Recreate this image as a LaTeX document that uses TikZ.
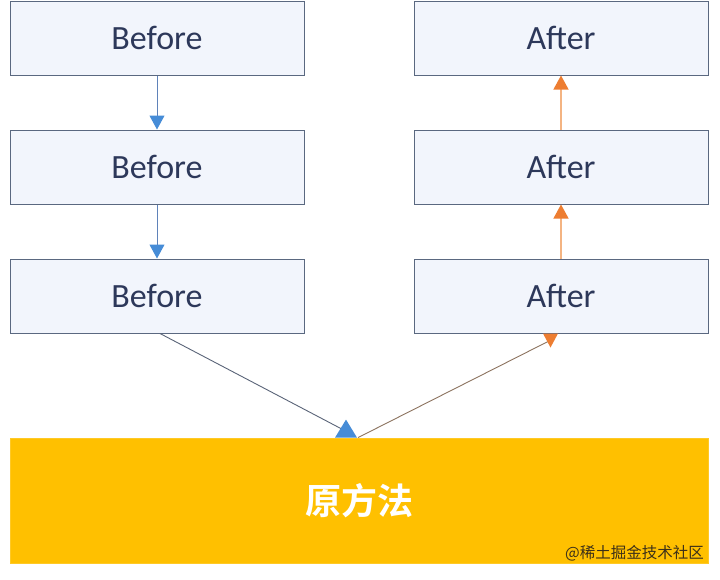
\documentclass[tikz,border=0pt]{standalone}
\usepackage{fontspec}
\setmainfont{Carlito}
\newfontfamily\cjk{Noto Sans CJK SC}
\newfontfamily\cjkbold{Noto Sans CJK SC Bold}
\usetikzlibrary{arrows.meta}
\definecolor{boxfill}{RGB}{242,245,252}
\definecolor{boxline}{RGB}{90,104,128}
\definecolor{txt}{RGB}{45,56,90}
\definecolor{bluetip}{RGB}{70,140,215}
\definecolor{bluelin}{RGB}{95,130,185}
\definecolor{orangetip}{RGB}{237,125,49}
\definecolor{orangelin}{RGB}{244,180,130}
\definecolor{diagL}{RGB}{90,100,120}
\definecolor{diagR}{RGB}{140,115,95}
\definecolor{bar}{RGB}{255,192,0}
\definecolor{wm}{RGB}{60,48,25}
\tikzset{
  stepbox/.style={draw=boxline, line width=1pt, fill=boxfill, minimum width=294pt, minimum height=74pt, inner sep=0pt, text=txt, font=\fontsize{34}{34}\selectfont},
  btip/.style={-{Triangle[width=15pt,length=14pt,color=bluetip]}},
  otip/.style={-{Triangle[width=15pt,length=14pt,color=orangetip]}}
}
\begin{document}
\begin{tikzpicture}[x=1pt,y=-1pt]
\useasboundingbox[fill=white] (0,0) rectangle (720,579);
\node[stepbox] (b1) at (157,38) {Before};
\node[stepbox] (b2) at (157,167) {Before};
\node[stepbox] (b3) at (157,296) {Before};
\node[stepbox] (a1) at (561,38) {After};
\node[stepbox] (a2) at (561,167) {After};
\node[stepbox] (a3) at (561,296) {After};
\node[fill=bar, draw=bar!85!white, line width=0.8pt, minimum width=698pt, minimum height=125pt, inner sep=0pt, text=white, font=\cjkbold\fontsize{36}{36}\selectfont] (bar) at (359,500.5) {原方法};
\node[anchor=south east, inner sep=0pt, text=wm, font=\cjk\fontsize{15.5}{15.5}\selectfont] (wmk) at (704,561) {@稀土掘金技术社区};
\draw[bluelin, line width=1pt, btip] (b1.south) -- (b2.north);
\draw[bluelin, line width=1pt, btip] (b2.south) -- (b3.north);
\draw[orangelin, line width=1.2pt, otip] (a2.north) -- (a1.south);
\draw[orangelin, line width=1.2pt, otip] (a3.north) -- (a2.south);
% diagonal connectors with upright / downward triangle heads
\draw[diagL, line width=0.9pt] ([xshift=3pt]b3.south) -- ([xshift=-18pt,yshift=9pt]bar.north);
\fill[bluetip] ([xshift=-24pt]bar.north) -- ([xshift=-2pt]bar.north) -- ([xshift=-13pt,yshift=18pt]bar.north) -- cycle;
\draw[diagR, line width=0.9pt] ([xshift=-1pt]bar.north) -- ([xshift=-13pt,yshift=-8pt]a3.south);
\fill[orangetip] ([xshift=-18pt]a3.south) -- ([xshift=-3pt]a3.south) -- ([xshift=-10.5pt,yshift=-14pt]a3.south) -- cycle;
\end{tikzpicture}
\end{document}
